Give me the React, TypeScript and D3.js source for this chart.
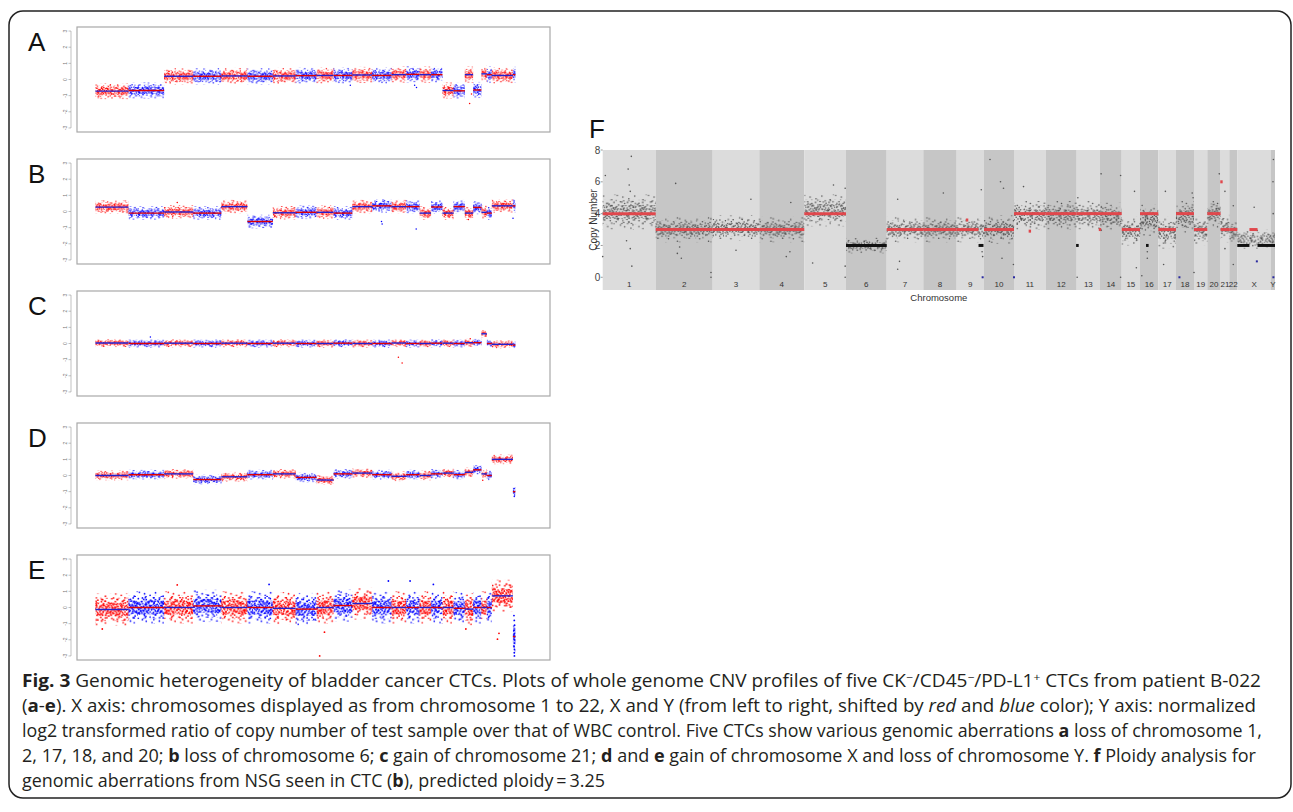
import React from 'react';
import * as d3 from 'd3';

// ---------- data ----------
const CHR_NAMES = ['1','2','3','4','5','6','7','8','9','10','11','12','13','14','15','16','17','18','19','20','21','22','X','Y'];
const CHR_SIZES = [53, 57, 46.6, 45, 41.7, 40.7, 36.6, 33.4, 27.3, 30, 31.7, 31, 23.3, 21.7, 18.3, 18.3, 17.7, 18, 13.3, 13.3, 8.7, 8, 33.7, 4];

const PANEL_LETTERS = ['A', 'B', 'C', 'D', 'E'];
const Y_TICKS = [3, 2, 1, 0, -1, -2, -3];

// segment (log2 ratio) level per chromosome
const LEVELS_A = [-0.72, -0.68, 0.2, 0.2, 0.22, 0.2, 0.22, 0.24, 0.25, 0.25, 0.28, 0.25, 0.3, 0.32, 0.3, 0.3, -0.68, -0.7, 0.3, -0.65, 0.35, 0.3, 0.25, 0.3];
const LEVELS_B = [0.27, -0.1, -0.03, -0.1, 0.3, -0.62, -0.08, -0.05, -0.05, -0.1, 0.3, 0.35, 0.3, 0.3, -0.1, 0.28, -0.1, 0.3, -0.1, 0.25, -0.05, -0.1, 0.35, 0.35];
const LEVELS_C = [0.03, 0, 0.02, 0, 0.02, 0, 0.02, 0, 0, 0.02, 0, 0, 0.03, 0, 0, 0.02, 0.02, 0, 0.05, 0.05, 0.6, 0, -0.05, -0.1];
const LEVELS_D = [0, 0.05, 0.1, -0.25, -0.08, 0.05, 0.1, -0.12, -0.28, 0.1, 0.15, 0.05, -0.05, 0.05, 0, 0.1, 0.15, 0.05, 0.2, 0.35, 0.1, 0, 1.0, -1.0];
const LEVELS_E = [-0.12, 0, 0, 0.1, 0, 0, -0.05, -0.1, 0, 0.12, 0.25, 0, 0, 0, 0, 0, 0, -0.05, -0.1, 0, 0, 0, 0.72, -1.8];
const PANEL_LEVELS = [LEVELS_A, LEVELS_B, LEVELS_C, LEVELS_D, LEVELS_E];
// half-width of the point cloud (log2 units)
const PANEL_SPREAD = [0.5, 0.42, 0.25, 0.3, 1.0];

// isolated points: [genome position (same units as CHR_SIZES), log2 ratio]
const OUTLIERS_A = [[408, -0.35], [511, -0.35], [514, -0.5], [599, -1.49], [602, -0.9]];
const OUTLIERS_B = [[131, 0.56], [458, -0.62], [459, -0.77], [513.5, -1.08], [668.5, -0.42], [597, -0.5]];
const OUTLIERS_C = [[88, 0.4], [485, -0.85], [491, -1.2], [600, 0.3]];
const OUTLIERS_D = [[620, -0.3], [612, 0.5], [670, -0.8], [671, -1.2], [670.5, -1.3]];
const OUTLIERS_E = [[359, -3.0], [643.6, -1.96], [131, 1.4], [278, 1.43], [469, 1.64], [503.7, 1.64], [541, 1.43], [366.7, -1.53], [11, -1.33], [593, -1.33],
  [670, -0.5], [670.5, -0.8], [671, -1.1], [670.2, -1.4], [670.8, -1.6], [670.4, -1.8], [671, -2.0], [670.6, -2.2], [670.2, -2.4], [670.8, -2.6], [670.5, -2.8], [670.7, -3.0], [646, -1.6]];
const PANEL_OUTLIERS = [OUTLIERS_A, OUTLIERS_B, OUTLIERS_C, OUTLIERS_D, OUTLIERS_E];

// panel F (copy number)
const F_TICKS = [0, 2, 4, 6, 8];
const F_CENTERS = [4.1, 3.0, 3.1, 3.0, 4.2, 2.0, 3.0, 3.0, 3.0, 3.0, 3.9, 3.9, 3.9, 3.8, 2.9, 3.6, 2.8, 3.8, 2.9, 4.0, 3.1, 2.8, 2.4, 2.4];
const F_SPREADS = [1.1, 0.8, 0.8, 0.8, 1.0, 0.5, 0.8, 0.8, 0.8, 0.9, 0.9, 0.9, 0.9, 0.9, 0.9, 1.0, 1.0, 1.0, 0.9, 0.9, 0.9, 0.8, 0.6, 0.6];
// [chromosome index, start fraction, end fraction, copy number]
const F_SEGMENTS = [
  [0, 0, 1, 4], [1, 0, 1, 3], [2, 0, 1, 3], [3, 0, 1, 3], [4, 0, 1, 4], [5, 0, 1, 2], [6, 0, 1, 3], [7, 0, 1, 3],
  [8, 0, 0.8, 3], [8, 0.8, 0.98, 2], [9, 0, 1, 3], [10, 0, 1, 4], [11, 0, 1, 4], [12, 0, 1, 4], [13, 0, 1, 4],
  [14, 0, 1, 3], [15, 0, 1, 4], [16, 0, 1, 3], [17, 0, 1, 4], [18, 0, 1, 3], [19, 0, 1, 4], [20, 0, 1, 3], [21, 0, 1, 3],
  [22, 0, 0.36, 2], [22, 0.36, 0.6, 3], [22, 0.6, 1, 2], [23, 0, 1, 2],
];
// [chromosome index, fraction, copy number]
const F_OUTLIERS = [
  [0, 0.05, 6.4], [0, 0.48, 6.8], [0, 0.54, 7.6], [0, 0.5, 5.8], [0, 0.52, 5.4], [0, 0.55, 0.7], [0, 0.52, 1.8], [0, 0.0, 1.3], [0, 0.45, 2.3],
  [1, 0.35, 5.9], [1, 0.38, 1.5], [1, 0.45, 1.2], [1, 0.42, 1.9], [1, 0.97, 0.3], [1, 0.97, 0.0],
  [2, 0.82, 4.9], [2, 0.5, 1.7], [3, 0.6, 1.3], [3, 0.68, 1.6], [3, 0.7, 4.7],
  [4, 0.2, 0.9], [4, 0.7, 5.8], [4, 0.98, 0.7], [4, 0.98, 5.6], [4, 0.98, 0.0],
  [6, 0.3, 4.9], [6, 0.3, 0.5], [6, 0.35, 1.0], [7, 0.6, 5.3], [8, 0.9, 5.5], [8, 0.95, 1.3], [8, 0.93, 1.6],
  [9, 0.2, 7.4], [9, 0.55, 6.0], [9, 0.65, 5.6], [9, 0.6, 1.2], [9, 0.98, 0.8],
  [10, 0.3, 5.7], [12, 0.05, 5.0], [12, 0.02, 0.0], [13, 0.05, 6.5], [13, 0.95, 6.4], [13, 0.95, 0.0],
  [14, 0.7, 5.4], [14, 0.8, 0.6], [15, 0.1, 0.1], [15, 0.4, 1.6], [15, 0.4, 1.2], [16, 0.4, 5.4], [16, 0.3, 0.8],
  [17, 0.9, 5.3], [17, 0.95, 5.0], [18, 0.0, 0.3], [19, 0.9, 6.5], [20, 0.5, 5.4], [20, 0.5, 1.8], [21, 0.5, 4.5], [21, 0.5, 0.8],
  [22, 0.5, 4.4], [23, 0.5, 6.0], [23, 0.6, 7.4], [23, 0.55, 4.0],
];
const F_RED_MARKS = [[8, 0.38, 3.6], [10, 0.5, 2.9], [13, 0.0, 3.0], [20, 0.1, 6.0]];
const F_BLACK_MARKS = [[12, 0.03, 2.0], [15, 0.4, 2.0]];
const F_BLUE_MARKS = [[8, 0.95, 0.0], [9, 1.0, 0.0], [17, 0.19, 0.0], [22, 0.58, 1.0], [23, 0.6, 0.0]];

// caption: [text, style]
const CAPTION = [
  [['Fig. 3', 'b'], [' Genomic heterogeneity of bladder cancer CTCs. Plots of whole genome CNV profiles of five CK', ''], ['\u2212', 'sup'], ['/CD45', ''], ['\u2212', 'sup'], ['/PD-L1', ''], ['+', 'sup'], [' CTCs from patient B-022', '']],
  [['(', ''], ['a', 'b'], ['-', ''], ['e', 'b'], ['). X axis: chromosomes displayed as from chromosome 1 to 22, X and Y (from left to right, shifted by ', ''], ['red', 'i'], [' and ', ''], ['blue', 'i'], [' color); Y axis: normalized', '']],
  [['log2 transformed ratio of copy number of test sample over that of WBC control. Five CTCs show various genomic aberrations ', ''], ['a', 'b'], [' loss of chromosome 1,', '']],
  [['2, 17, 18, and 20; ', ''], ['b', 'b'], [' loss of chromosome 6; ', ''], ['c', 'b'], [' gain of chromosome 21; ', ''], ['d', 'b'], [' and ', ''], ['e', 'b'], [' gain of chromosome X and loss of chromosome Y. ', ''], ['f', 'b'], [' Ploidy analysis for', '']],
  [['genomic aberrations from NSG seen in CTC (', ''], ['b', 'b'], ['), predicted ploidy\u2009=\u20093.25', '']],
];

// ---------- layout / style ----------
const W = 1293, H = 812;
const PANEL_TOPS = [27, 159, 291, 423, 555];
const PANEL_H = 105;
const BOX_L = 77, BOX_R = 550;
const DATA_L = 95.4, DATA_R = 515.4;
const F_L = 602.7, F_R = 1275, F_T = 150, F_B = 290;
const CAP_BASE = [687, 712, 737, 762, 787];
const CAP_RIGHT = [1261, 1256, 1262, 1256, 605];
const SANS = '"Liberation Sans", Arial, Helvetica, sans-serif';

// point textures for the clouds (12 x 9 base tile, expanded to an irregular 24 x 18 tile)
const TILE_CORE = [[0.5, 0.7], [3.2, 0.2], [6.8, 1.1], [9.9, 0.4], [1.8, 2.6], [5.1, 3.0], [8.3, 2.4], [11.2, 3.3], [0.3, 4.9], [3.9, 5.4], [7.0, 4.6], [10.1, 5.8], [2.2, 7.3], [5.6, 7.9], [8.8, 7.0], [11.5, 8.4], [4.4, 1.6], [9.4, 6.6], [2.7, 4.1], [6.3, 6.0], [10.6, 1.8], [0.9, 8.6]];
const TILE_MID = [[1.2, 1.5], [7.6, 0.6], [4.3, 4.2], [10.8, 3.9], [2.6, 7.1], [8.1, 6.3], [5.9, 8.5], [11.3, 7.6], [6.1, 2.2], [0.4, 5.8]];
const TILE_OUT = [[2.1, 2.2], [8.4, 5.1], [5.3, 7.7], [10.9, 0.9], [0.7, 6.4]];
const QUAD_SHIFTS = [[0, 0, 0, 0], [12, 0, 4.3, 5.6], [0, 9, 7.7, 2.9], [12, 9, 9.1, 6.8]];

const expandTile = (dots: number[][]) =>
  QUAD_SHIFTS.flatMap(([ox, oy, sx, sy]) => dots.map(([x, y]) => [ox + ((x + sx) % 12), oy + ((y + sy) % 9)]));

const total = d3.sum(CHR_SIZES);
const chrEnds = Array.from(d3.cumsum(CHR_SIZES));
const chrStarts = chrEnds.map((e, i) => e - CHR_SIZES[i]);
const chrOf = (u: number) => {
  const i = chrEnds.findIndex((e) => u <= e);
  return i < 0 ? CHR_SIZES.length - 1 : i;
};
const RED = '#ff0000', BLUE = '#0000ff';
const chrColor = (i: number) => (i % 2 === 0 ? RED : BLUE);
const lineColor = (i: number) => (i % 2 === 0 ? '#2020d0' : '#e00000');

function Tile({ id, scale, dots, r, color, dx = 0, dy = 0 }: any) {
  const pts = expandTile(dots);
  return (
    <pattern id={id} patternUnits="userSpaceOnUse" width={24 * scale} height={18 * scale} x={dx} y={dy}>
      {pts.map(([x, y]: number[], i: number) => (
        <circle key={i} cx={x * scale} cy={y * scale} r={r} fill={color} />
      ))}
    </pattern>
  );
}

function Defs() {
  const out: any[] = [];
  const colors: [string, string][] = [['red', RED], ['blue', BLUE]];
  colors.forEach(([n, c]) => {
    out.push(<Tile key={`c${n}`} id={`core-${n}`} scale={0.85} dots={TILE_CORE} r={0.72} color={c} />);
    out.push(<Tile key={`m${n}`} id={`mid-${n}`} scale={0.85} dots={TILE_MID} r={0.72} color={c} dx={3} dy={2} />);
    out.push(<Tile key={`o${n}`} id={`out-${n}`} scale={0.9} dots={TILE_OUT} r={0.72} color={c} dx={6} dy={5} />);
    out.push(<Tile key={`ec${n}`} id={`ecore-${n}`} scale={1.05} dots={TILE_CORE} r={0.85} color={c} />);
    out.push(<Tile key={`em${n}`} id={`emid-${n}`} scale={1.1} dots={TILE_MID} r={0.85} color={c} dx={5} dy={3} />);
    out.push(<Tile key={`eo${n}`} id={`eout-${n}`} scale={1.2} dots={TILE_OUT} r={0.85} color={c} dx={9} dy={7} />);
  });
  const g = '#4a4a4a';
  out.push(<Tile key="fc" id="fcore" scale={1.2} dots={TILE_CORE} r={0.75} color={g} />);
  out.push(<Tile key="fm" id="fmid" scale={1.2} dots={TILE_MID} r={0.75} color={g} dx={4} dy={3} />);
  out.push(<Tile key="fo" id="fout" scale={1.3} dots={TILE_OUT} r={0.75} color={g} dx={8} dy={6} />);
  return <defs>{out}</defs>;
}

function CnvPanel({ idx }: { idx: number }) {
  const top = PANEL_TOPS[idx];
  const levels = PANEL_LEVELS[idx];
  const spread = PANEL_SPREAD[idx];
  const x = d3.scaleLinear().domain([0, total]).range([DATA_L, DATA_R]);
  const y = d3.scaleLinear().domain([-3.25, 3.25]).range([top + PANEL_H, top]);
  const pre = idx === 4 ? 'e' : '';
  const axisX = 71;
  return (
    <g>
      <text x={28} y={top + 24} fontFamily={SANS} fontSize={26} fill="#111">{PANEL_LETTERS[idx]}</text>
      <rect x={BOX_L} y={top} width={BOX_R - BOX_L} height={PANEL_H} fill="white" stroke="#a8a8a8" strokeWidth={1.2} />
      <line x1={axisX} x2={axisX} y1={y(3)} y2={y(-3)} stroke="#999" strokeWidth={0.6} />
      {Y_TICKS.map((t) => (
        <g key={t}>
          <line x1={axisX - 2.5} x2={axisX} y1={y(t)} y2={y(t)} stroke="#999" strokeWidth={0.6} />
          <text transform={`translate(${axisX - 4},${y(t)}) rotate(-90)`} textAnchor="middle" fontSize={5} fontFamily={SANS} fill="#777">{t}</text>
        </g>
      ))}
      {levels.map((lv, i) => {
        const n = i % 2 === 0 ? 'red' : 'blue';
        const x0 = x(chrStarts[i]), x1 = x(chrEnds[i]);
        const layers: [string, number][] = [[`${pre}out-${n}`, 1], [`${pre}mid-${n}`, 0.72], [`${pre}core-${n}`, 0.42]];
        return (
          <g key={i}>
            {layers.map(([pid, f]) => (
              <rect key={pid} x={x0} width={x1 - x0} y={y(lv + spread * f)} height={y(lv - spread * f) - y(lv + spread * f)} fill={`url(#${pid})`} />
            ))}
          </g>
        );
      })}
      {PANEL_OUTLIERS[idx].map(([u, v], k) => (
        <circle key={k} cx={x(u)} cy={y(v)} r={idx === 4 ? 0.9 : 0.75} fill={chrColor(chrOf(u))} />
      ))}
      {levels.map((lv, i) => (
        <line key={i} x1={x(chrStarts[i])} x2={x(chrEnds[i])} y1={y(lv)} y2={y(lv)} stroke={lineColor(i)} strokeWidth={1.4} />
      ))}
    </g>
  );
}

function PanelF() {
  const x = d3.scaleLinear().domain([0, total]).range([F_L, F_R]);
  const y = d3.scaleLinear().domain([-0.8, 8]).range([F_B, F_T]);
  const px = (c: number, f: number) => x(chrStarts[c] + f * CHR_SIZES[c]);
  return (
    <g>
      <text x={589} y={138} fontFamily={SANS} fontSize={26} fill="#111">F</text>
      {CHR_NAMES.map((_, i) => (
        <rect key={i} x={x(chrStarts[i])} width={x(chrEnds[i]) - x(chrStarts[i])} y={F_T} height={F_B - F_T} fill={i % 2 === 0 ? '#dcdcdc' : '#c6c6c6'} />
      ))}
      {F_CENTERS.map((c, i) => {
        const s = F_SPREADS[i];
        const x0 = x(chrStarts[i]), x1 = x(chrEnds[i]);
        const layers: [string, number][] = [['fout', 1], ['fmid', 0.7], ['fcore', 0.4]];
        return layers.map(([pid, f]) => (
          <rect key={`${i}${pid}`} x={x0} width={x1 - x0} y={y(c + s * f)} height={y(c - s * f) - y(c + s * f)} fill={`url(#${pid})`} />
        ));
      })}
      {F_OUTLIERS.map(([c, f, v], k) => (
        <circle key={k} cx={px(c, f)} cy={y(v)} r={0.8} fill="#555" />
      ))}
      {F_SEGMENTS.map(([c, f0, f1, cn], k) => (
        <line key={k} x1={px(c, f0)} x2={px(c, f1)} y1={y(cn)} y2={y(cn)} stroke={cn === 2 ? '#111' : '#e0474c'} strokeWidth={3} />
      ))}
      {F_RED_MARKS.map(([c, f, v], k) => (
        <rect key={k} x={px(c, f) - 1.2} y={y(v) - 1.5} width={2.4} height={3} fill="#e0474c" />
      ))}
      {F_BLACK_MARKS.map(([c, f, v], k) => (
        <rect key={k} x={px(c, f) - 1.3} y={y(v) - 1.5} width={2.6} height={3} fill="#111" />
      ))}
      {F_BLUE_MARKS.map(([c, f, v], k) => (
        <rect key={k} x={px(c, f) - 1} y={y(v) - 1} width={2} height={2} fill="#2a2aa0" />
      ))}
      {F_TICKS.map((t) => (
        <g key={t}>
          <line x1={F_L - 2} x2={F_L} y1={y(t)} y2={y(t)} stroke="#555" strokeWidth={0.6} />
          <text x={F_L - 2.5} y={y(t) + 3.5} textAnchor="end" fontFamily={SANS} fontSize={10} fill="#444">{t}</text>
        </g>
      ))}
      <text transform={`translate(597,220) rotate(-90)`} textAnchor="middle" fontFamily={SANS} fontSize={10} fill="#333">Copy Number</text>
      {CHR_NAMES.map((n, i) => (
        <text key={n} x={x((chrStarts[i] + chrEnds[i]) / 2)} y={287} textAnchor="middle" fontFamily={SANS} fontSize={8} fill="#333">{n}</text>
      ))}
      <text x={(F_L + F_R) / 2} y={301} textAnchor="middle" fontFamily={SANS} fontSize={9.5} fill="#333">Chromosome</text>
    </g>
  );
}

function Caption() {
  return (
    <g fontFamily={'"Open Sans", "Noto Sans", sans-serif'} fontSize={17.5} fill="#231f20">
      {CAPTION.map((parts, li) => (
        <text key={li} x={22} y={CAP_BASE[li]} textLength={CAP_RIGHT[li] - 22} lengthAdjust="spacingAndGlyphs">
          {parts.map(([t, s], k) => {
            if (s === 'sup') return <tspan key={k} dy={-6} fontSize={11}>{t}</tspan>;
            const prevSup = k > 0 && parts[k - 1][1] === 'sup';
            return (
              <tspan key={k} dy={prevSup ? 6 : 0} fontWeight={s === 'b' ? 700 : 400} fontStyle={s === 'i' ? 'italic' : 'normal'}>{t}</tspan>
            );
          })}
        </text>
      ))}
    </g>
  );
}

export default function App() {
  return (
    <svg width={W} height={H} style={{ position: 'absolute', left: 0, top: 0, background: 'white' }}>
      <Defs />
      <rect x={0} y={0} width={W} height={H} fill="white" />
      <rect x={9} y={11} width={1282} height={787} rx={14} ry={14} fill="none" stroke="#222" strokeWidth={1.5} />
      {PANEL_LETTERS.map((_, i) => <CnvPanel key={i} idx={i} />)}
      <PanelF />
      <Caption />
    </svg>
  );
}
